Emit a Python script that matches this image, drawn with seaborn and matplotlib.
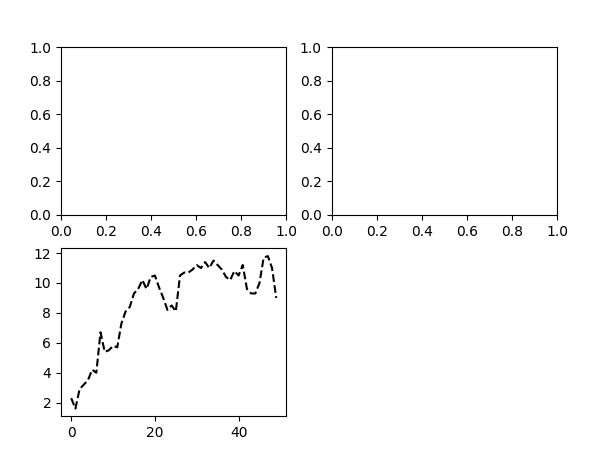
import numpy as np
import matplotlib
matplotlib.use("Agg")
import matplotlib.pyplot as plt
import seaborn as sns

# random-walk style series (50 steps)
walk = [2.3, 1.6, 2.9, 3.2, 3.5, 4.2, 4.0, 6.7, 5.4, 5.5,
        5.8, 5.7, 7.3, 8.1, 8.4, 9.3, 9.6, 10.2, 9.6, 10.4,
        10.5, 9.7, 9.0, 8.2, 8.5, 8.1, 10.5, 10.7, 10.7, 10.9,
        11.2, 11.0, 11.4, 11.0, 11.5, 11.2, 10.9, 10.4, 10.2, 10.8,
        10.5, 11.2, 9.6, 9.3, 9.3, 10.0, 11.7, 11.8, 11.0, 9.0]
steps = list(range(len(walk)))

fig = plt.figure(figsize=(5.92, 4.49), dpi=100)
ax1 = fig.add_subplot(2, 2, 1)
ax2 = fig.add_subplot(2, 2, 2)
ax3 = fig.add_subplot(2, 2, 3)

sns.lineplot(x=steps, y=walk, ax=ax3, color="black", linestyle="--")

fig.subplots_adjust(left=0.103, right=0.941, top=0.895, bottom=0.073)
fig.savefig("out.png")
